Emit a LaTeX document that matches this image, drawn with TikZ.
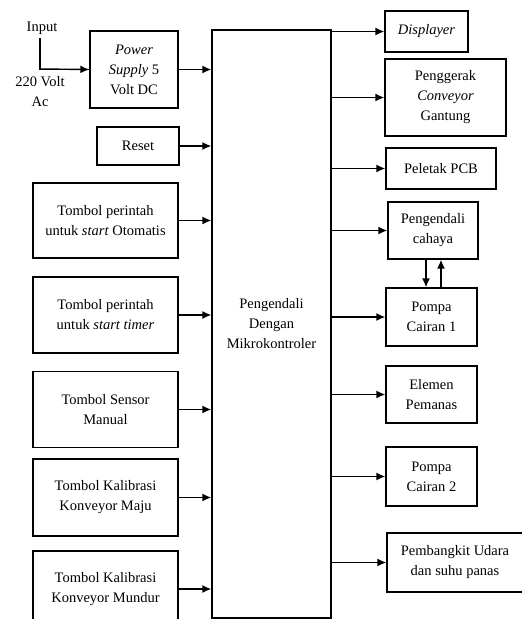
\documentclass[tikz,border=0pt]{standalone}
\usepackage{fontspec}
\setmainfont{Liberation Serif}
\usetikzlibrary{arrows.meta}
\begin{document}
\fontsize{14.5}{20}\selectfont
\begin{tikzpicture}[x=1pt, y=-1pt, >={Latex[length=9pt,width=8pt]},
    blok/.style={draw, line width=1.4pt, align=center, inner sep=2pt},
    panah/.style={line width=1.4pt, ->}]
    \useasboundingbox (0,0) rectangle (522,619);

    % blok kiri
    \node[blok, minimum width=88, minimum height=77] (ps) at (134,69.5) {\textit{Power}\\\textit{Supply} 5\\Volt DC};
    \node[blok, minimum width=82, minimum height=38] (reset) at (138,146) {Reset};
    \node[blok, minimum width=145, minimum height=75] (oto) at (105.5,220.5) {Tombol perintah\\untuk \textit{start} Otomatis};
    \node[blok, minimum width=145, minimum height=76] (timer) at (105.5,315) {Tombol perintah\\untuk \textit{start timer}};
    \node[blok, minimum width=145, minimum height=76] (sensor) at (105.5,409.5) {Tombol Sensor\\Manual};
    \node[blok, minimum width=145, minimum height=77] (maju) at (105.5,497.5) {Tombol Kalibrasi\\Konveyor Maju};
    \node[blok, minimum width=145, minimum height=76] (mundur) at (105.5,589) {Tombol Kalibrasi\\Konveyor Mundur};

    % input
    \node (input) at (42,28) {Input};
    \node[align=center] (volt) at (40,92) {220 Volt\\Ac};

    % blok tengah
    \node[blok, minimum width=119, minimum height=588] (mcu) at (271.5,324) {Pengendali\\Dengan\\Mikrokontroler};

    % blok kanan
    \node[blok, minimum width=83, minimum height=41] (disp) at (426.5,31.5) {\textit{Displayer}};
    \node[blok, minimum width=121, minimum height=77] (conv) at (445.5,97.5) {Penggerak\\\textit{Conveyor}\\Gantung};
    \node[blok, minimum width=110, minimum height=41] (pcb) at (441,168.5) {Peletak PCB};
    \node[blok, minimum width=90, minimum height=57] (cahaya) at (433,230.5) {Pengendali\\cahaya};
    \node[blok, minimum width=91, minimum height=58] (pompa1) at (431.5,317) {Pompa\\Cairan 1};
    \node[blok, minimum width=91, minimum height=57] (elemen) at (431.5,394.5) {Elemen\\Pemanas};
    \node[blok, minimum width=91, minimum height=59] (pompa2) at (431.5,476.5) {Pompa\\Cairan 2};
    \node[blok, minimum width=136, minimum height=59] (udara) at (455,562.5) {Pembangkit Udara\\dan suhu panas};

    % panah masuk
    \draw[line width=1.4pt] (40,38) |- (ps.west);
    \draw[panah] (39.5,69) -- (ps.west);
    \foreach \n in {ps, reset, oto, timer, sensor, maju, mundur}
        \draw[panah] (\n.east) -- (\n.east -| mcu.west);

    % panah keluar
    \foreach \n in {disp, conv, pcb, cahaya, pompa1, elemen, pompa2, udara}
        \draw[panah] (\n.west -| mcu.east) -- (\n.west);

    % cahaya <-> pompa
    \draw[panah] ([xshift=-7pt]cahaya.south) -- ([xshift=-7pt]cahaya.south |- pompa1.north);
    \draw[panah] ([xshift=8pt]cahaya.south |- pompa1.north) -- ([xshift=8pt]cahaya.south);
\end{tikzpicture}
\end{document}
